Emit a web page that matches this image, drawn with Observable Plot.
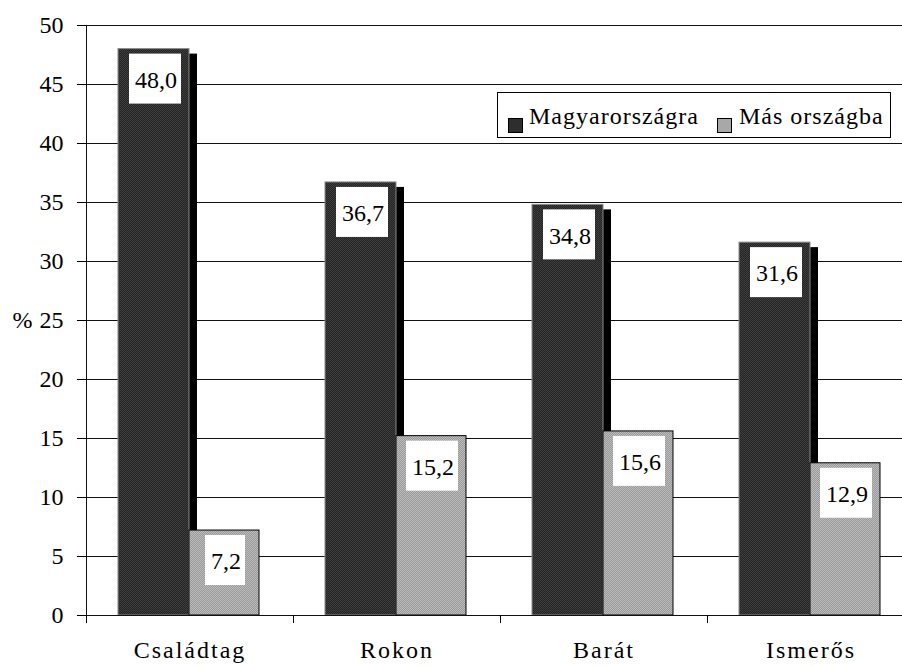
<!DOCTYPE html>
<html>
<head>
<meta charset="utf-8">
<script src="https://cdn.jsdelivr.net/npm/d3@7"></script>
<script src="https://cdn.jsdelivr.net/npm/@observablehq/plot@0.6"></script>
<style>
  body { margin: 0; font-family: "Liberation Serif", serif; font-size: 24px; }
  #legend { position: absolute; left: 497px; top: 92px; width: 392px; height: 44px; border: 1px solid black; background: white; }
  #legend .sw { position: absolute; top: 25px; width: 13px; height: 13px; border: 1px solid black; }
  #legend .lb { position: absolute; top: 9px; line-height: 28px; letter-spacing: 1px; white-space: nowrap; }
</style>
</head>
<body>
<div id="chart"></div>
<script>
const categories = ["Családtag", "Rokon", "Barát", "Ismerős"];
const magyarorszagra = [48.0, 36.7, 34.8, 31.6];
const masOrszagba = [7.2, 15.2, 15.6, 12.9];
const seriesNames = ["Magyarországra", "Más országba"];
const yTicks = [0, 5, 10, 15, 20, 25, 30, 35, 40, 45, 50];

const rows = categories.map((c, i) => ({ i, cat: c, m: magyarorszagra[i], o: masOrszagba[i] }));
const fmt = v => v.toFixed(1).replace(".", ",");
const FONT = "Liberation Serif, serif";
const short = d => fmt(d.o).length === 3;

const svg = Plot.plot({
  width: 902,
  height: 666,
  marginLeft: 86,
  marginRight: 0,
  marginTop: 25,
  marginBottom: 51,
  x: { domain: [0, 4], range: [86, 914] },
  y: { domain: [0, 50] },
  style: { fontFamily: FONT, fontSize: "24px", background: "white", color: "black", overflow: "hidden" },
  marks: [
    Plot.gridY(yTicks, { stroke: "#111", strokeOpacity: 1, strokeWidth: 1 }),
    Plot.rectY(rows, { x1: "i", x2: d => d.i + 1, y: "m", fill: "black", insetLeft: 32, insetRight: 104, dx: 8, dy: 5, insetBottom: 5 }),
    Plot.rectY(rows, { x1: "i", x2: d => d.i + 1, y: "m", fill: "url(#pd)", stroke: "#8a8a8a", strokeWidth: 1, insetLeft: 32, insetRight: 104 }),
    Plot.rectY(rows, { x1: "i", x2: d => d.i + 1, y: "o", fill: "url(#pl)", stroke: "black", strokeWidth: 1, insetLeft: 103, insetRight: 34 }),
    Plot.rect(rows, { x1: "i", x2: d => d.i + 1, y1: "m", y2: "m", fill: "white", insetLeft: 43, insetRight: 112, insetTop: 5, insetBottom: -55 }),
    Plot.rect(rows.filter(d => !short(d)), { x1: "i", x2: d => d.i + 1, y1: "o", y2: "o", fill: "white", insetLeft: 113, insetRight: 42, insetTop: 5, insetBottom: -55 }),
    Plot.rect(rows.filter(short), { x1: "i", x2: d => d.i + 1, y1: "o", y2: "o", fill: "white", insetLeft: 119, insetRight: 48, insetTop: 5, insetBottom: -55 }),
    Plot.text(rows, { x: d => d.i + 0.5, y: "m", text: d => fmt(d.m), dx: -34, dy: 31, lineAnchor: "middle", fill: "black", fontSize: 24 }),
    Plot.text(rows, { x: d => d.i + 0.5, y: "o", text: d => fmt(d.o), dx: 36, dy: 31, lineAnchor: "middle", fill: "black", fontSize: 24 }),
    Plot.ruleX([0], { y1: 0, y2: 50, stroke: "#111" }),
    Plot.ruleY([0], { stroke: "#111" }),
    Plot.axisY(yTicks, { tickSize: 9, tickPadding: 14, fontSize: 24, label: null, tickFormat: d => String(d) }),
    Plot.axisX([0, 1, 2, 3, 4], { tickSize: 8, tickFormat: () => "", label: null }),
    Plot.axisX([0.5, 1.5, 2.5, 3.5], { tickSize: 0, tickPadding: 25, fontSize: 24, label: null, tickFormat: t => categories[Math.floor(t)] }),
    Plot.text(["%"], { frameAnchor: "left", dx: -74, fontSize: 24, fill: "black" })
  ]
});

// fill patterns
const defs = d3.select(svg).insert("defs", ":first-child");
function pat(id, base, dot) {
  const p = defs.append("pattern").attr("id", id).attr("width", 2).attr("height", 2).attr("patternUnits", "userSpaceOnUse");
  p.append("rect").attr("width", 2).attr("height", 2).attr("fill", base);
  p.append("rect").attr("width", 1).attr("height", 1).attr("fill", dot);
  p.append("rect").attr("x", 1).attr("y", 1).attr("width", 1).attr("height", 1).attr("fill", dot);
}
pat("pd", "#242424", "#3e3e3e");
pat("pl", "#999999", "#bcbcbc");

document.getElementById("chart").append(svg);
svg.querySelectorAll("text").forEach(t => {
  if (categories.includes(t.textContent)) t.setAttribute("letter-spacing", "2");
});

// legend (HTML)
const lg = d3.select("body").append("div").attr("id", "legend");
const items = [
  { name: seriesNames[0], bg: "#2e2e2e", sx: 10, tx: 31 },
  { name: seriesNames[1], bg: "#a8a8a8", sx: 219, tx: 241 }
];
items.forEach(it => {
  lg.append("div").attr("class", "sw").style("left", it.sx + "px").style("background", it.bg);
  lg.append("div").attr("class", "lb").style("left", it.tx + "px").text(it.name);
});
</script>
</body>
</html>
